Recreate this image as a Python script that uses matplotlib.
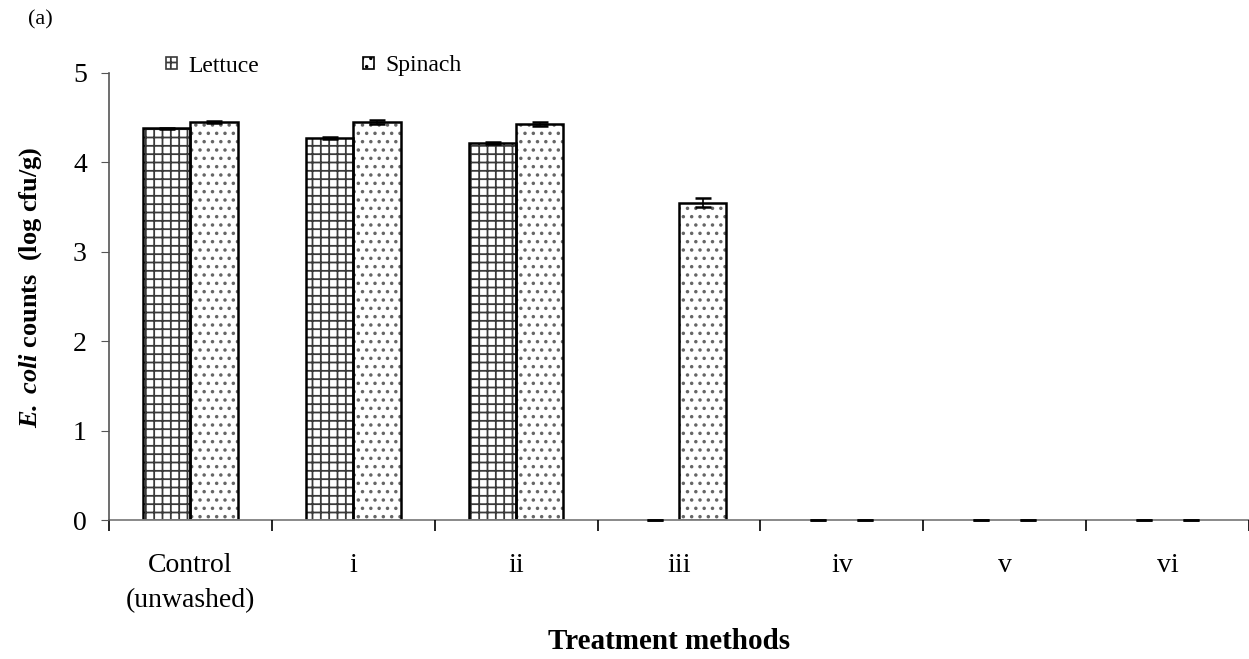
import matplotlib
matplotlib.use("Agg")
import matplotlib.pyplot as plt
import numpy as np
from matplotlib.patches import Patch

plt.rcParams['font.family'] = ['Liberation Serif', 'DejaVu Serif']
plt.rcParams['mathtext.fontset'] = 'custom'
plt.rcParams['mathtext.rm'] = 'Liberation Serif'
plt.rcParams['mathtext.it'] = 'Liberation Serif:italic'
plt.rcParams['mathtext.bf'] = 'Liberation Serif:bold'
plt.rcParams['mathtext.bfit'] = 'Liberation Serif:italic:bold'
plt.rcParams['hatch.linewidth'] = 1.3

categories = ["Control\n(unwashed)", "i", "ii", "iii", "iv", "v", "vi"]
lettuce = [4.38, 4.27, 4.22, 0.0, 0.0, 0.0, 0.0]
spinach = [4.45, 4.45, 4.43, 3.55, 0.0, 0.0, 0.0]
lettuce_err = [0.01, 0.01, 0.01, 0.0, 0.0, 0.0, 0.0]
spinach_err = [0.01, 0.02, 0.02, 0.05, 0.0, 0.0, 0.0]
yticks = [0, 1, 2, 3, 4, 5]

W, H = 1249, 659
fig = plt.figure(figsize=(W / 100, H / 100), dpi=100)
ax = fig.add_axes([109 / W, 1 - 520 / H, (W - 109) / W, (520 - 73) / H])

x = np.arange(len(categories))
w = 0.29
grid_col = '#3a3a3a'
dot_col = '#666666'
# hatched fills
ax.bar(x - w/2, lettuce, w, facecolor='white', edgecolor=grid_col, hatch='++', linewidth=0)
ax.bar(x + w/2, spinach, w, facecolor='white', edgecolor=dot_col, hatch='..', linewidth=0)
# outlines (only for non-zero bars)
ax.bar(x - w/2, lettuce, w, facecolor='none', edgecolor='black',
       linewidth=[1.8 if v > 0 else 0 for v in lettuce])
ax.bar(x + w/2, spinach, w, facecolor='none', edgecolor='black',
       linewidth=[1.8 if v > 0 else 0 for v in spinach])
for vals, errs, off in ((lettuce, lettuce_err, -w/2), (spinach, spinach_err, w/2)):
    cont = ax.errorbar(x + off, vals, yerr=errs, fmt='none', ecolor='black', capsize=5.5,
                       elinewidth=1.2, capthick=1.8, zorder=5)
    for ln in cont.lines[1]:
        ln.set_clip_on(False)
    for lc in cont.lines[2]:
        lc.set_clip_on(False)

ax.set_xlim(-0.5, len(categories) - 0.5)
ax.set_ylim(0, 5)
ax.set_yticks(yticks)
ax.set_yticklabels([str(t) for t in yticks], fontsize=20)
ax.set_xticks(x)
ax.set_xticklabels(categories, fontsize=20, linespacing=1.55)
ax.tick_params(axis='x', length=0, pad=23.5)
ax.set_xticks(np.arange(len(categories) + 1) - 0.5, minor=True)
ax.tick_params(axis='x', which='minor', length=8, direction='out', color='black', width=1.2)
ax.tick_params(axis='y', length=6, direction='out', pad=10, color='#555555')

ax.spines['top'].set_visible(False)
ax.spines['right'].set_visible(False)
ax.spines['bottom'].set_color('#808080')
ax.spines['left'].set_color('#555555')
ax.spines['bottom'].set_linewidth(1.3)
ax.spines['left'].set_linewidth(1.2)
ax.spines['bottom'].set_zorder(1)

ax.set_ylabel(r"$\mathbfit{E.\ coli}$ counts  (log cfu/g)", fontsize=19, fontweight='bold', va='center')
ax.yaxis.set_label_coords((31 - 109) / (W - 109), 0.52)
fig.text(669 / W, 1 - 628 / H, "Treatment methods", fontsize=21, fontweight='bold', ha='center', va='top')
fig.text(28 / W, 1 - 20 / H, "(a)", fontsize=16, va='center')

handles = [Patch(facecolor='white', edgecolor=grid_col, hatch='++', label='Lettuce', linewidth=1.2),
           Patch(facecolor='white', edgecolor='black', hatch='..', label='Spinach', linewidth=1.2)]
fig.legend(handles=handles, loc='center left', bbox_to_anchor=(166 / W, 1 - 66 / H), ncol=2, frameon=False,
           fontsize=17, handlelength=0.45, handleheight=0.45, handletextpad=0.5, columnspacing=4.4,
           borderpad=0, borderaxespad=0)

fig.savefig("out.png", dpi=100)
